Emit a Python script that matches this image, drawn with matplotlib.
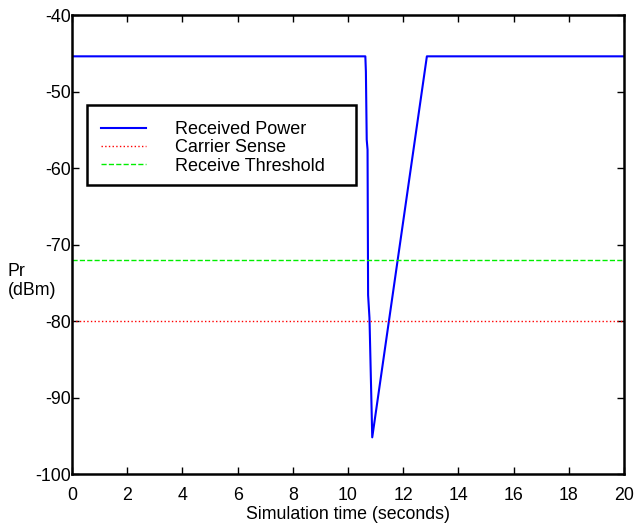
import numpy as np
import matplotlib.pyplot as plt
from matplotlib.patches import Rectangle

plt.rcParams['font.family'] = ['Liberation Sans', 'DejaVu Sans']
plt.rcParams['axes.unicode_minus'] = False

# received power trace (seconds, dBm)
t_pr = [0, 10.63, 10.65, 10.68, 10.71, 10.73, 10.78, 10.88, 12.86, 20]
pr = [-45.4, -45.4, -47.4, -56.3, -57.6, -76.6, -79.6, -95.2, -45.4, -45.4]

carrier_sense = -80.0
rx_threshold = -72.0

x_ticks = np.arange(0, 21, 2)
y_ticks = np.arange(-100, -39, 10)

fs = 12.8

fig = plt.figure(figsize=(6.36, 5.25), dpi=100)
ax = fig.add_axes([0.1132, 0.097, 0.8678, 0.8744])

ax.plot(t_pr, pr, '-', color='#0000ff', linewidth=1.5, label='Received Power')
ax.axhline(carrier_sense, color='#ff0000', linestyle=':', linewidth=1.0, label='Carrier Sense')
ax.axhline(rx_threshold, color='#00ee00', linestyle='--', linewidth=1.0, label='Receive Threshold')

ax.set_xlim(0, 20)
ax.set_ylim(-100, -40)
ax.set_xticks(x_ticks)
ax.set_yticks(y_ticks)
ax.tick_params(direction='in', top=True, right=True, length=5, width=1,
               labelsize=fs)
ax.tick_params(axis='x', pad=9)
ax.tick_params(axis='y', pad=1)
for s in ax.spines.values():
    s.set_linewidth(1.8)

ax.set_xlabel('Simulation time (seconds)', fontsize=fs, labelpad=2)
fig.text(0.012, 0.465, 'Pr\n(dBm)', fontsize=fs, ha='left', va='center',
         linespacing=1.2)

# legend entries without frame, box drawn separately
leg = ax.legend(loc='upper left', bbox_to_anchor=(0.052, 0.769),
                fontsize=13, handlelength=2.5, handletextpad=1.6,
                labelspacing=0.07, borderpad=0, frameon=False,
                borderaxespad=0)
ax.add_patch(Rectangle((0.0272, 0.6296), 0.4882, 0.1744, transform=ax.transAxes,
                       fill=False, edgecolor='black', linewidth=1.8,
                       zorder=5))

fig.savefig('out.png', dpi=100)
